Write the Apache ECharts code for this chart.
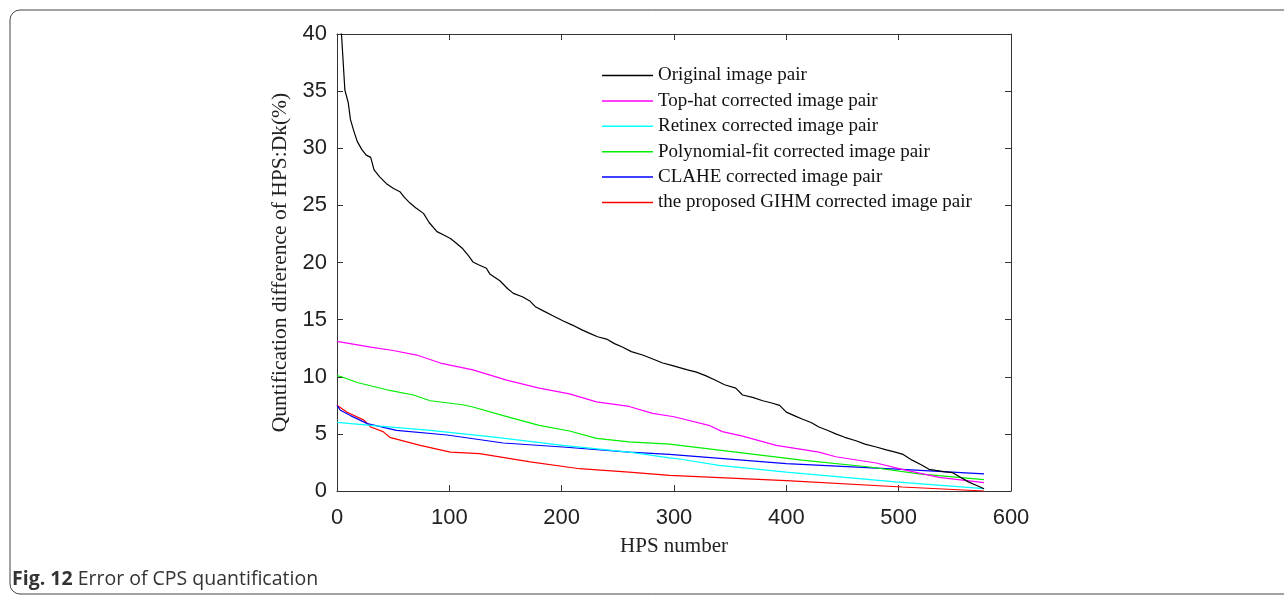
<!DOCTYPE html>
<html>
<head>
<meta charset="utf-8">
<script src="https://cdn.jsdelivr.net/npm/echarts@6/dist/echarts.min.js"></script>
<style>
  html, body { margin: 0; padding: 0; background: #fff; }
  #main { width: 1284px; height: 597px; }
</style>
</head>
<body>
<div id="main"></div>
<script>
// values
var origX = [1, 4, 7, 10, 12, 15, 18, 22, 26, 30, 33, 38, 44, 50, 56, 60, 65, 70, 77, 82, 89, 95, 101, 106, 112, 117, 121, 126, 133, 136, 145, 152, 157, 165, 172, 177, 185, 193, 201, 210, 218, 225, 232, 240, 247, 254, 262, 272, 280, 290, 298, 305, 312, 320, 328, 337, 345, 355, 361, 370, 379, 387, 394, 400, 407, 414, 422, 429, 437, 444, 452, 462, 470, 480, 489, 497, 504, 512, 520, 527, 533, 540, 548, 555, 562, 569, 576]
var origY = [40.5, 40, 35.1, 34, 32.5, 31.5, 30.6, 29.9, 29.4, 29.2, 28.1, 27.5, 26.9, 26.5, 26.2, 25.7, 25.2, 24.8, 24.3, 23.5, 22.7, 22.4, 22.1, 21.7, 21.2, 20.6, 20.05, 19.8, 19.5, 19.0, 18.4, 17.7, 17.3, 17.0, 16.6, 16.1, 15.7, 15.3, 14.9, 14.5, 14.1, 13.8, 13.5, 13.3, 12.9, 12.6, 12.2, 11.9, 11.6, 11.2, 11.0, 10.8, 10.6, 10.4, 10.1, 9.7, 9.3, 9.0, 8.4, 8.2, 7.9, 7.7, 7.5, 6.9, 6.6, 6.3, 6.0, 5.6, 5.3, 5.0, 4.7, 4.4, 4.1, 3.85, 3.6, 3.4, 3.2, 2.7, 2.3, 1.9, 1.8, 1.7, 1.6, 1.2, 0.8, 0.5, 0.2]

var tophatX = [0, 30, 50, 71, 92, 121, 151, 180, 207, 231, 260, 281, 300, 331, 343, 361, 391, 429, 444, 480, 503, 536, 576]
var tophatY = [13.1, 12.6, 12.3, 11.9, 11.2, 10.6, 9.7, 9.0, 8.5, 7.8, 7.4, 6.8, 6.5, 5.75, 5.2, 4.8, 4.0, 3.4, 3.0, 2.45, 1.9, 1.2, 0.73]

var retinexX = [0, 30, 83, 142, 201, 260, 296, 305, 340, 400, 497, 576]
var retinexY = [6.0, 5.75, 5.3, 4.7, 4.0, 3.4, 2.9, 2.8, 2.25, 1.66, 0.8, 0.2]

var polyX = [0, 4, 18, 47, 68, 83, 112, 121, 148, 180, 207, 231, 260, 296, 355, 414, 474, 518, 576]
var polyY = [10.1, 10.0, 9.5, 8.8, 8.4, 7.9, 7.55, 7.35, 6.6, 5.75, 5.25, 4.6, 4.3, 4.1, 3.4, 2.7, 2.1, 1.5, 1.0]

var claheX = [0, 3, 12, 27, 53, 98, 148, 201, 260, 296, 400, 503, 576]
var claheY = [7.5, 7.07, 6.6, 5.9, 5.3, 4.9, 4.2, 3.85, 3.4, 3.2, 2.4, 1.9, 1.5]

var gihmX = [0, 9, 24, 30, 41, 47, 74, 101, 127, 172, 216, 260, 296, 400, 503, 576]
var gihmY = [7.5, 6.9, 6.2, 5.6, 5.2, 4.7, 4.0, 3.4, 3.27, 2.55, 1.95, 1.66, 1.37, 0.9, 0.35, 0.0]

var seriesNames = ['Original image pair', 'Top-hat corrected image pair', 'Retinex corrected image pair',
  'Polynomial-fit corrected image pair', 'CLAHE corrected image pair', 'the proposed GIHM corrected image pair']
var seriesColors = ['#000000', '#ff00ff', '#00ffff', '#00ee00', '#0000ff', '#ff0000']

function pairs(xs, ys) {
  return xs.map(function (x, i) { return [x, ys[i]] })
}
var allData = [
  pairs(origX, origY), pairs(tophatX, tophatY), pairs(retinexX, retinexY),
  pairs(polyX, polyY), pairs(claheX, claheY), pairs(gihmX, gihmY)
]

var myChart = echarts.init(document.getElementById('main'))

var axisLine = { show: true, onZero: false, lineStyle: { color: '#333', width: 1 } }
var tick = { show: true, inside: true, length: 6, lineStyle: { color: '#333' } }
var serif = '"Liberation Serif", "DejaVu Serif", serif'
var sans = '"Liberation Sans", Arial, sans-serif'

var option = {
  animation: false,
  grid: { left: 337, right: 273, top: 34, bottom: 106 },
  xAxis: [{
    type: 'value', min: 0, max: 600, interval: 100,
    name: 'HPS number', nameLocation: 'middle', nameGap: 45,
    nameTextStyle: { fontFamily: serif, fontSize: 21, color: '#222' },
    axisLine: axisLine, axisTick: tick, splitLine: { show: false },
    axisLabel: { fontFamily: sans, fontSize: 22, color: '#222', margin: 16 }
  }, {
    type: 'value', min: 0, max: 600, interval: 100, position: 'top',
    axisLine: axisLine, axisTick: tick, splitLine: { show: false },
    axisLabel: { show: false }
  }],
  yAxis: [{
    type: 'value', min: 0, max: 40, interval: 5,
    name: 'Quntification difference of HPS:Dk(%)', nameLocation: 'middle', nameGap: 43,
    nameTextStyle: { fontFamily: serif, fontSize: 21.5, color: '#222' },
    axisLine: axisLine, axisTick: tick, splitLine: { show: false },
    axisLabel: { fontFamily: sans, fontSize: 22, color: '#222', margin: 10 }
  }, {
    type: 'value', min: 0, max: 40, interval: 5, position: 'right',
    axisLine: axisLine, axisTick: tick, splitLine: { show: false },
    axisLabel: { show: false }
  }],
  legend: {
    left: 597, top: 61, orient: 'vertical',
    icon: 'rect', itemWidth: 51, itemHeight: 1.5, itemGap: 6.4,
    textStyle: { fontFamily: serif, fontSize: 19, color: '#111', lineHeight: 16 },
    data: seriesNames
  },
  graphic: [{
    type: 'rect', shape: { x: 10, y: 10, width: 1400, height: 584, r: 10 },
    style: { fill: 'none', stroke: '#444', lineWidth: 1 }
  }, {
    type: 'text', left: 12, top: 569,
    style: {
      text: '{b|Fig. 12} Error of CPS quantification',
      font: '19.5px "Open Sans", sans-serif', fill: '#333',
      rich: { b: { fontFamily: '"Open Sans", sans-serif', fontWeight: 'bold', fontSize: 19.5, fill: '#333' } }
    }
  }],
  series: allData.map(function (d, i) {
    return {
      name: seriesNames[i], type: 'line', data: d,
      showSymbol: false, symbol: 'none',
      lineStyle: { color: seriesColors[i], width: 1.2 },
      itemStyle: { color: seriesColors[i] },
      z: 10 - i
    }
  })
}

myChart.setOption(option)
</script>
</body>
</html>
